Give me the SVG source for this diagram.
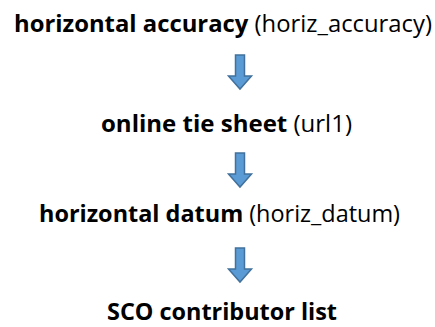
<svg xmlns="http://www.w3.org/2000/svg" width="435" height="327" viewBox="0 0 435 327">
<style>
text { font-family: "Open Sans", "Liberation Sans", sans-serif; font-size: 24px; fill: #000; }
.b { font-weight: bold; }
.arrow { fill: #5B9BD5; stroke: #41719C; stroke-width: 1.5; stroke-linejoin: miter; }
</style>
<defs>
<path id="arr" d="M -4.5 0 L 4.5 0 L 4.5 21 L 11.5 21 L 0 34 L -11.5 21 L -4.5 21 Z"/>
</defs>
<rect width="435" height="327" fill="#fff"/>
<g id="node1"><text x="14" y="32" textLength="418" lengthAdjust="spacingAndGlyphs"><tspan class="b">horizontal accuracy</tspan> (horiz_accuracy)</text></g>
<g id="node2"><text x="101" y="132" textLength="251" lengthAdjust="spacingAndGlyphs"><tspan class="b">online tie sheet</tspan> (url1)</text></g>
<g id="node3"><text x="39" y="222" textLength="361" lengthAdjust="spacingAndGlyphs"><tspan class="b">horizontal datum</tspan> (horiz_datum)</text></g>
<g id="node4"><text x="107" y="320" textLength="230" lengthAdjust="spacingAndGlyphs" class="b">SCO contributor list</text></g>
<g id="connectors">
<use href="#arr" class="arrow" transform="translate(240,55)"/>
<use href="#arr" class="arrow" transform="translate(240,153)"/>
<use href="#arr" class="arrow" transform="translate(240,248)"/>
</g>
</svg>
